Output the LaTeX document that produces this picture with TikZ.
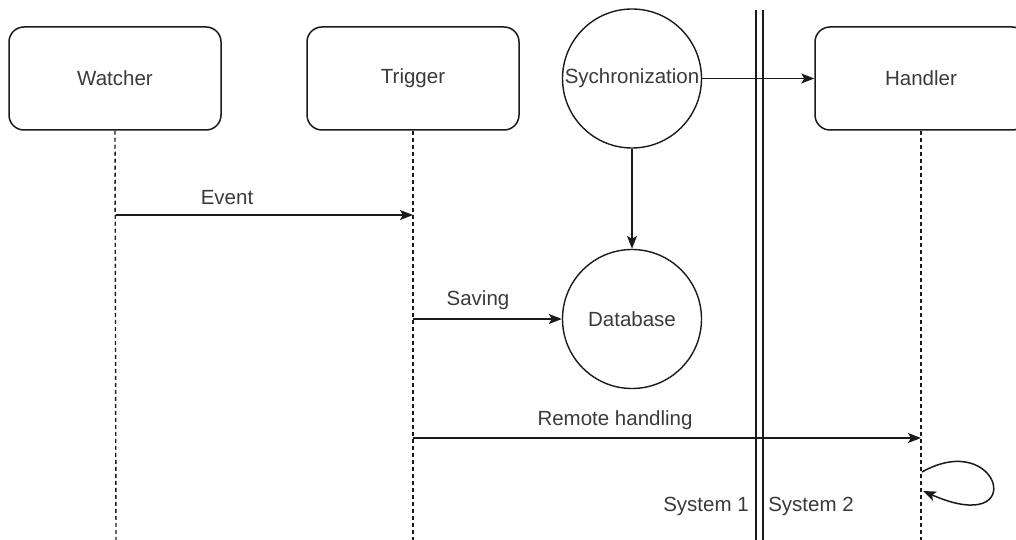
\documentclass[tikz,border=0pt]{standalone}
\usepackage{fontspec}
\setmainfont{Liberation Sans}
\usetikzlibrary{arrows.meta}
\definecolor{txtgray}{HTML}{3A3A3A}
\definecolor{linegray}{HTML}{1A1A1A}

\tikzset{
  lane/.style={draw=linegray,rounded corners=15pt,minimum width=212pt,minimum height=103pt,line width=1.5pt},
  store/.style={draw=linegray,circle,minimum size=139pt,inner sep=0pt,line width=1.4pt},
  life/.style={draw=linegray,dash pattern=on 4pt off 3pt,line width=1.4pt},
  msg/.style={draw=linegray,-{Stealth[length=13pt,width=10pt,inset=3pt]},line width=1.5pt},
}

\begin{document}
\begin{tikzpicture}[x=1pt,y=-1pt,every node/.style={text=txtgray,font=\fontsize{20.5}{24}\selectfont}]
%\draw[step=50,gray,very thin] (0,0) grid (1016,540); %background grid
\useasboundingbox (0,0) rectangle (1016,540);

\begin{scope}
\clip (0,0) rectangle (1016,540);

\node[lane] (watcher) at (115,78.5) {Watcher};
\node[lane] (trigger) at (413,78.5) {Trigger};
\node[lane] (handler) at (921,78.5) {Handler};
\node[store] (sync) at (632,78.5) {};
\node[] (synctext) at (632,78.5) {Sychronization};
\node[store] (db) at (632,319) {Database};

% system border
\draw[linegray,line width=1.7pt] (756,10)--(756,540);
\draw[linegray,line width=1.7pt] (763,10)--(763,540);

% lifelines
\coordinate (watcher end) at (116,540);
\coordinate (trigger end) at (413,540);
\coordinate (handler end) at (921,540);
\draw[life] (watcher.south) -- (watcher end);
\draw[life] (trigger.south) -- (trigger end);
\draw[life] (handler.south) -- (handler end);

\coordinate (w1) at (116,215);
\coordinate (t1) at (413,215);
\coordinate (t2) at (413,319);
\coordinate (t3) at (413,438);
\coordinate (h1) at (921,438);
\coordinate (h2) at (922,472);
\coordinate (h3) at (923,491);

\draw[msg] (w1) -- (t1);
\node[] (event) at (227,198) {Event};

\draw[msg] (t2) -- (db.west);
\node[] (saving) at (478,300) {Saving};

\draw[msg] (sync.south) -- (db.north);
\draw[msg] (sync.east) -- (handler.west);

\draw[msg] (t3) -- (h1);
\node[] (remote) at (615,420) {Remote handling};

\draw[msg] (h2) .. controls (1000,428) and (1030,538) .. (h3);

\node[] (sys1) at (706,506) {System 1};
\node[] (sys2) at (811,506) {System 2};
\end{scope}

\end{tikzpicture}
\end{document}
